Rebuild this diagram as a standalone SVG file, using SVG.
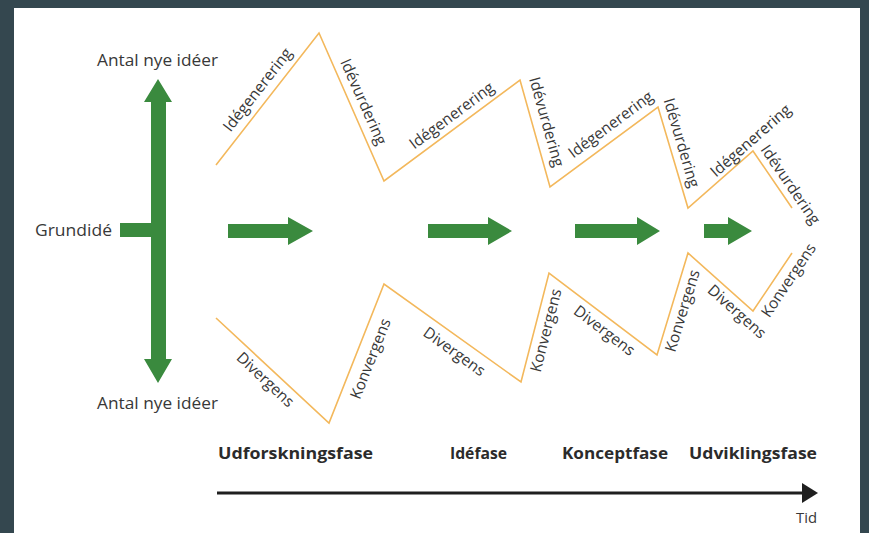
<svg xmlns="http://www.w3.org/2000/svg" width="869" height="533" viewBox="0 0 869 533">
<style>
.lbl{font-family:"Open Sans","Liberation Sans",sans-serif;font-size:15.5px;fill:#383838;text-anchor:middle}
.ax{font-family:"Open Sans","Liberation Sans",sans-serif;font-size:17px;fill:#383838}
.ph{font-family:"Open Sans","Liberation Sans",sans-serif;font-size:16px;font-weight:bold;fill:#2b2b2b}
.zz{fill:none;stroke:#f3b85c;stroke-width:1.6;stroke-linejoin:miter}
.gr{fill:#3a8a3e}
</style>
<rect x="0" y="0" width="869" height="533" fill="#34474f"/>
<rect x="14" y="8" width="846" height="525" fill="#ffffff"/>

<g id="axis-vertical">
  <polygon class="gr" points="158,79 172,102 166,102 166,359 172,359 158,383 144,359 151,359 151,237 120,237 120,223 151,223 151,102 144,102"/>
</g>
<g id="label-top"><text class="ax" x="97" y="66" textLength="121" lengthAdjust="spacingAndGlyphs">Antal nye idéer</text></g>
<g id="label-bottom"><text class="ax" x="97" y="409" textLength="121" lengthAdjust="spacingAndGlyphs">Antal nye idéer</text></g>
<g id="label-grundide"><text class="ax" x="35" y="236" textLength="77" lengthAdjust="spacingAndGlyphs">Grundidé</text></g>

<g id="connectors">
  <g id="green-arrows">
    <polygon class="gr" points="228,224 288,224 288,217 313,231 288,245 288,238 228,238"/>
    <polygon class="gr" points="428,224 488,224 488,217 512,231 488,245 488,238 428,238"/>
    <polygon class="gr" points="575,224 637,224 637,217 660,231 637,245 637,238 575,238"/>
    <polygon class="gr" points="704,224 728,224 728,217 752,231 728,245 728,238 704,238"/>
  </g>
  <polyline id="zigzag-top" class="zz" points="216,165 319,33 384,181 520,80 550,187 658,107 688,208 753,151 792,208"/>
  <polyline id="zigzag-bottom" class="zz" points="216,318 329,423 384,284 521,382 549,273 657,355 688,253 753,311 792,253"/>
  <g id="timeline">
    <line x1="217" y1="493" x2="804" y2="493" stroke="#1f1f1f" stroke-width="3"/>
    <polygon points="802,483 818,493 802,503" fill="#1f1f1f"/>
  </g>
</g>

<g id="top-labels">
  <text class="lbl" transform="translate(258,90) rotate(-52)" dy="0.3em">Idégenerering</text>
  <text class="lbl" transform="translate(363,102) rotate(66)" dy="0.3em">Idévurdering</text>
  <text class="lbl" transform="translate(452,116) rotate(-36.6)" dy="0.3em">Idégenerering</text>
  <text class="lbl" transform="translate(546,122) rotate(74.3)" dy="0.3em">Idévurdering</text>
  <text class="lbl" transform="translate(611,125) rotate(-36.5)" dy="0.3em">Idégenerering</text>
  <text class="lbl" transform="translate(681,143) rotate(73.5)" dy="0.3em">Idévurdering</text>
  <text class="lbl" transform="translate(751,141) rotate(-41.2)" dy="0.3em">Idégenerering</text>
  <text class="lbl" transform="translate(790,185) rotate(55.6)" dy="0.3em">Idévurdering</text>
</g>
<g id="bottom-labels">
  <text class="lbl" transform="translate(265,380) rotate(43)" dy="0.3em">Divergens</text>
  <text class="lbl" transform="translate(371,359) rotate(-68.4)" dy="0.3em">Konvergens</text>
  <text class="lbl" transform="translate(454,352) rotate(35.6)" dy="0.3em">Divergens</text>
  <text class="lbl" transform="translate(546.5,330.5) rotate(-75.6)" dy="0.3em">Konvergens</text>
  <text class="lbl" transform="translate(604,331) rotate(37.2)" dy="0.3em">Divergens</text>
  <text class="lbl" transform="translate(683,311) rotate(-73)" dy="0.3em">Konvergens</text>
  <text class="lbl" transform="translate(736.5,312) rotate(41.7)" dy="0.3em">Divergens</text>
  <text class="lbl" transform="translate(789,280.5) rotate(-56.1)" dy="0.3em">Konvergens</text>
</g>

<g id="phases">
  <text class="ph" x="218" y="459" textLength="155" lengthAdjust="spacingAndGlyphs">Udforskningsfase</text>
  <text class="ph" x="450" y="459" textLength="57" lengthAdjust="spacingAndGlyphs">Idéfase</text>
  <text class="ph" x="562" y="459" textLength="106" lengthAdjust="spacingAndGlyphs">Konceptfase</text>
  <text class="ph" x="689" y="459" textLength="128" lengthAdjust="spacingAndGlyphs">Udviklingsfase</text>
</g>
<g id="label-tid"><text class="ax" x="796" y="523" style="font-size:15px" textLength="21" lengthAdjust="spacingAndGlyphs">Tid</text></g>
</svg>
